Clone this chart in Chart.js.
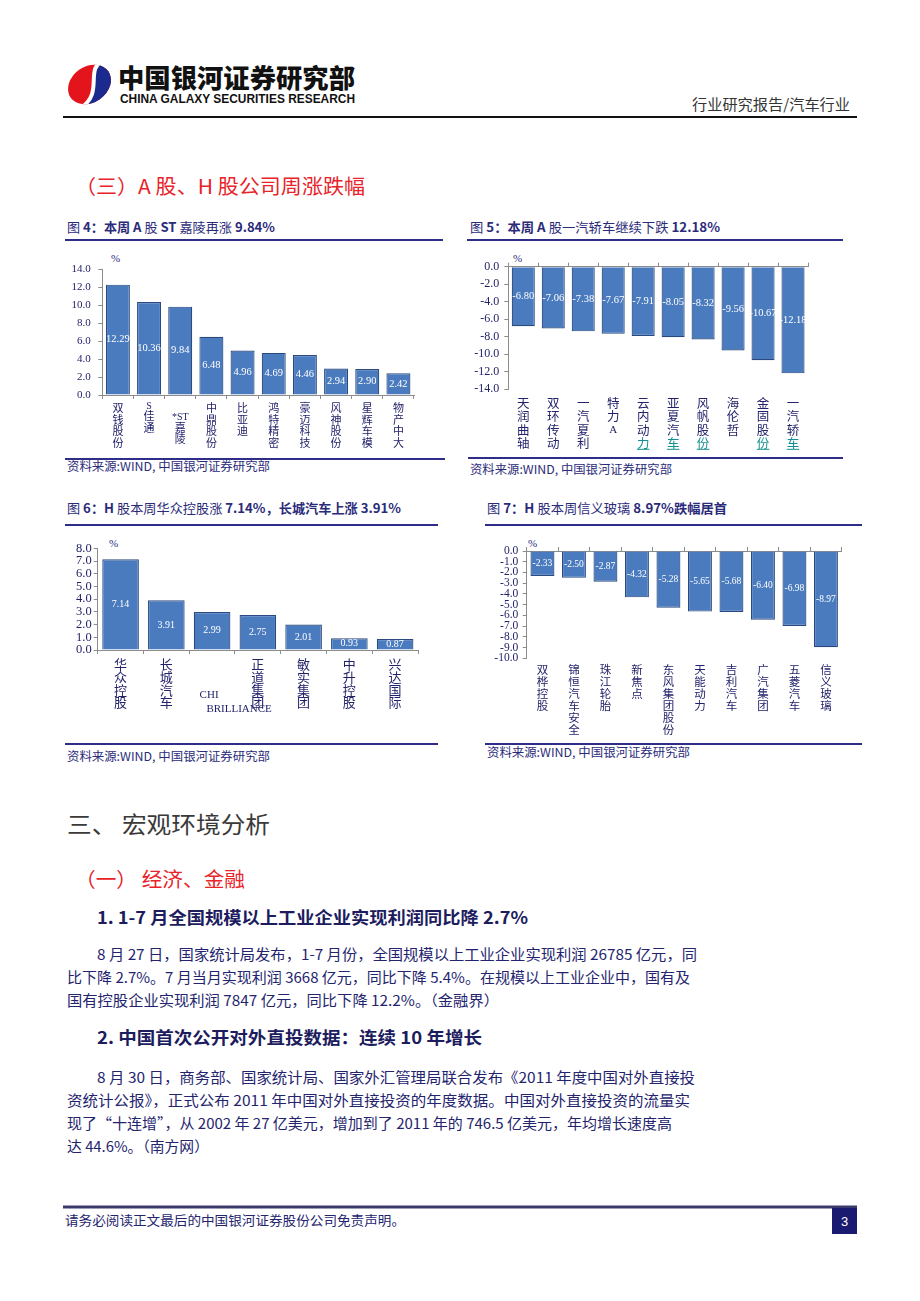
<!DOCTYPE html>
<html>
<head>
<meta charset="utf-8">
<script src="https://cdn.jsdelivr.net/npm/chart.js@4.4.1/dist/chart.umd.min.js"></script>
<style>
  html, body { margin: 0; padding: 0; background: #fff; }
  body { width: 920px; height: 1301px; position: relative; overflow: hidden; }
  svg.page { position: absolute; left: 0; top: 0; }
  canvas { position: absolute; }
  .cjk { font-family: 'Noto Sans CJK SC', sans-serif; }
</style>
</head>
<body>
<svg class="page" width="920" height="1301" xmlns="http://www.w3.org/2000/svg">
  <!-- header -->
  <defs>
    <clipPath id="logoClip"><ellipse cx="89.5" cy="84.5" rx="23" ry="18" transform="rotate(-35 89.5 84.5)"/></clipPath>
  </defs>
  <g clip-path="url(#logoClip)">
    <rect x="60" y="55" width="60" height="60" fill="#e3141c"/>
    <path d="M 104 60 C 84 66, 104 92, 82 108 L 125 108 L 125 60 Z" fill="#1b2a8e"/>
    <path d="M 104 61 C 84 67, 104 92, 82 107" stroke="#fff" stroke-width="4" fill="none"/>
  </g>
  <text x="118" y="88" class="cjk" font-size="26" font-weight="900" fill="#111" textLength="237" lengthAdjust="spacingAndGlyphs">中国银河证券研究部</text>
  <text x="120" y="103" font-family="Liberation Sans" font-size="12" font-weight="bold" fill="#111" textLength="235" lengthAdjust="spacingAndGlyphs">CHINA GALAXY SECURITIES RESEARCH</text>
  <text x="692" y="110" class="cjk" font-size="15" fill="#333" textLength="158" lengthAdjust="spacingAndGlyphs">行业研究报告/汽车行业</text>
  <line x1="63" y1="117" x2="857" y2="117" stroke="#111" stroke-width="2"/>

  <text x="75" y="194" class="cjk" font-size="20" fill="#e8232a" textLength="290" lengthAdjust="spacingAndGlyphs">（三）A 股、H 股公司周涨跌幅</text>

  <!-- chart titles -->
  <g class="cjk" font-size="13" fill="#2b2b7a">
    <text x="67" y="231.5" textLength="208" lengthAdjust="spacingAndGlyphs">图 <tspan font-weight="bold">4：本周 A</tspan> 股 <tspan font-weight="bold">ST</tspan> 嘉陵再涨 <tspan font-weight="bold">9.84%</tspan></text>
    <text x="470" y="231.5" textLength="250" lengthAdjust="spacingAndGlyphs">图 <tspan font-weight="bold">5：本周 A</tspan> 股一汽轿车继续下跌 <tspan font-weight="bold">12.18%</tspan></text>
    <text x="67" y="512.5" textLength="334" lengthAdjust="spacingAndGlyphs">图 <tspan font-weight="bold">6：H</tspan> 股本周华众控股涨 <tspan font-weight="bold">7.14%，长城汽车上涨 3.91%</tspan></text>
    <text x="487" y="512.5" textLength="240" lengthAdjust="spacingAndGlyphs">图 <tspan font-weight="bold">7：H</tspan> 股本周信义玻璃 <tspan font-weight="bold">8.97%跌幅居首</tspan></text>
  </g>
  <g stroke="#2e2e8a" stroke-width="2">
    <line x1="65" y1="240" x2="443" y2="240"/>
    <line x1="467" y1="240" x2="843" y2="240"/>
    <line x1="65" y1="525" x2="438" y2="525"/>
    <line x1="485" y1="525" x2="862" y2="525"/>
    <line x1="65" y1="459" x2="445" y2="459"/>
    <line x1="468" y1="458" x2="843" y2="458"/>
    <line x1="65" y1="744" x2="438" y2="744"/>
    <line x1="485" y1="744" x2="862" y2="744"/>
  </g>
  <g font-family="Liberation Serif" font-size="11" fill="#2b2b7a">
    <text x="111" y="262">%</text>
    <text x="513" y="262">%</text>
    <text x="109" y="547">%</text>
    <text x="528" y="547">%</text>
  </g>
  <g class="cjk" font-size="12" fill="#2b2b7a">
    <text x="67" y="471" textLength="203" lengthAdjust="spacingAndGlyphs">资料来源:WIND, 中国银河证券研究部</text>
    <text x="470" y="474" textLength="202" lengthAdjust="spacingAndGlyphs">资料来源:WIND, 中国银河证券研究部</text>
    <text x="67" y="761" textLength="203" lengthAdjust="spacingAndGlyphs">资料来源:WIND, 中国银河证券研究部</text>
    <text x="487" y="757" textLength="203" lengthAdjust="spacingAndGlyphs">资料来源:WIND, 中国银河证券研究部</text>
  </g>

  <!-- body text -->
  <text x="67" y="833" class="cjk" font-size="23" fill="#3a3a3a" textLength="203" lengthAdjust="spacingAndGlyphs">三、 宏观环境分析</text>
  <text x="75" y="887" class="cjk" font-size="20" fill="#e8232a" textLength="170" lengthAdjust="spacingAndGlyphs">（一） 经济、金融</text>
  <text x="97" y="924" class="cjk" font-size="17" font-weight="bold" fill="#1c1c5e" textLength="431" lengthAdjust="spacingAndGlyphs">1. 1-7 月全国规模以上工业企业实现利润同比降 2.7%</text>
  <g class="cjk" font-size="14.5" fill="#24246e">
    <text x="97" y="960" textLength="600" lengthAdjust="spacingAndGlyphs">8 月 27 日，国家统计局发布，1-7 月份，全国规模以上工业企业实现利润 26785 亿元，同</text>
    <text x="67" y="983" textLength="623" lengthAdjust="spacingAndGlyphs">比下降 2.7%。7 月当月实现利润 3668 亿元，同比下降 5.4%。在规模以上工业企业中，国有及</text>
    <text x="67" y="1006" textLength="432" lengthAdjust="spacingAndGlyphs">国有控股企业实现利润 7847 亿元，同比下降 12.2%。（金融界）</text>
  </g>
  <text x="97" y="1044" class="cjk" font-size="17" font-weight="bold" fill="#1c1c5e" textLength="385" lengthAdjust="spacingAndGlyphs">2. 中国首次公开对外直投数据：连续 10 年增长</text>
  <g class="cjk" font-size="14.5" fill="#24246e">
    <text x="97" y="1083" textLength="598" lengthAdjust="spacingAndGlyphs">8 月 30 日，商务部、国家统计局、国家外汇管理局联合发布《2011 年度中国对外直接投</text>
    <text x="67" y="1106" textLength="623" lengthAdjust="spacingAndGlyphs">资统计公报》，正式公布 2011 年中国对外直接投资的年度数据。中国对外直接投资的流量实</text>
    <text x="67" y="1129" textLength="605" lengthAdjust="spacingAndGlyphs">现了“十连增”，从 2002 年 27 亿美元，增加到了 2011 年的 746.5 亿美元，年均增长速度高</text>
    <text x="67" y="1152" textLength="142" lengthAdjust="spacingAndGlyphs">达 44.6%。（南方网）</text>
  </g>

  <!-- footer -->
  <line x1="63" y1="1207" x2="857" y2="1207" stroke="#3a3a6a" stroke-width="3"/>
  <text x="65" y="1225" class="cjk" font-size="13" fill="#24246e" textLength="340" lengthAdjust="spacingAndGlyphs">请务必阅读正文最后的中国银河证券股份公司免责声明。</text>
  <rect x="832" y="1208" width="25" height="26" fill="#1a1a70"/>
  <text x="844.5" y="1226" font-family="Liberation Sans" font-size="13" fill="#fff" text-anchor="middle">3</text>
</svg>

<canvas id="aRise" width="380" height="200" style="left:62px;top:250px"></canvas>
<canvas id="aFall" width="375" height="205" style="left:468px;top:250px"></canvas>
<canvas id="hRise" width="380" height="185" style="left:62px;top:535px"></canvas>
<canvas id="hFall" width="380" height="205" style="left:484px;top:535px"></canvas>

<script>
const NAVY = '#23236b';
const LINK = '#13908f';
const BAR_FILL = '#4a7bbf';
const BAR_EDGE = '#2a4a7f';
const AXIS = '#8c8c8c';

// 图4 A股涨幅
const aRiseNames = ['双钱股份', 'S佳通', ['', '*ST', '嘉', '陵'], '中鼎股份', '比亚迪', '鸿特精密', '豪迈科技', '风神股份', '星辉车模', '物产中大'];
const aRiseValues = [12.29, 10.36, 9.84, 6.48, 4.96, 4.69, 4.46, 2.94, 2.90, 2.42];

// 图5 A股跌幅
const aFallNames = ['天润曲轴', '双环传动', '一汽夏利', '特力A', '云内动力', '亚夏汽车', '风帆股份', '海伦哲', '金固股份', '一汽轿车'];
const aFallValues = [-6.80, -7.06, -7.38, -7.67, -7.91, -8.05, -8.32, -9.56, -10.67, -12.18];

// 图6 H股涨幅
const hRiseNames = ['华众控股', '长城汽车', ['', '', 'CHI', 'BRILLIANCE'], '正道集团', '敏实集团', '中升控股', '兴达国际'];
const hRiseValues = [7.14, 3.91, 2.99, 2.75, 2.01, 0.93, 0.87];

// 图7 H股跌幅
const hFallNames = ['双桦控股', '锦恒汽车安全', '珠江轮胎', '新焦点', '东风集团股份', '天能动力', '吉利汽车', '广汽集团', '五菱汽车', '信义玻璃'];
const hFallValues = [-2.33, -2.50, -2.87, -4.32, -5.28, -5.65, -5.68, -6.40, -6.98, -8.97];

// 竖排标签: 汉字逐字一行, 英文连续一行
function toLines(label) {
  if (Array.isArray(label)) return label;
  const out = [];
  let buf = '';
  for (const ch of label) {
    if (/[\x00-\x7f]/.test(ch)) { buf += ch; continue; }
    if (buf) { out.push(buf); buf = ''; }
    out.push(ch);
  }
  if (buf) out.push(buf);
  return out;
}

const stackedLabels = {
  id: 'stackedLabels',
  afterDraw(chart, args, o) {
    const ctx = chart.ctx;
    const xs = chart.scales.x;
    const top = chart.chartArea.bottom + o.offset;
    ctx.save();
    ctx.textAlign = 'center';
    ctx.textBaseline = 'middle';
    chart.data.labels.forEach((lab, i) => {
      const x = xs.getPixelForValue(i);
      let y = top;
      const lines = toLines(lab);
      lines.forEach((ln, j) => {
        const latin = /^[\x00-\x7f]*$/.test(ln);
        const h = (latin && ln) ? o.latinHeight : o.lineHeight;
        const shift = (o.shift && o.shift[ln]) || [0, 0];
        const link = o.links && o.links.includes(i) && j === lines.length - 1;
        ctx.font = latin ? o.latinFont : o.font;
        ctx.fillStyle = link ? LINK : NAVY;
        const cx = x + shift[0], cy = y + h / 2 + shift[1];
        if (ln) ctx.fillText(ln, cx, cy);
        if (link) {
          const w = ctx.measureText(ln).width;
          ctx.fillRect(cx - w / 2, cy + h / 2 - 1, w, 1);
        }
        y += h;
      });
    });
    ctx.restore();
  }
};

const barValues = {
  id: 'barValues',
  afterDatasetsDraw(chart, args, o) {
    const ctx = chart.ctx;
    const vals = chart.data.datasets[0].data;
    ctx.save();
    ctx.font = o.font;
    ctx.fillStyle = '#fff';
    ctx.textAlign = 'center';
    ctx.textBaseline = 'middle';
    chart.getDatasetMeta(0).data.forEach((bar, i) => {
      ctx.fillText(vals[i].toFixed(2), bar.x, (bar.y + bar.base) / 2);
    });
    ctx.restore();
  }
};

function makeChart(id, names, values, s) {
  return new Chart(document.getElementById(id), {
    type: 'bar',
    data: {
      labels: names,
      datasets: [{
        data: values,
        backgroundColor: BAR_FILL,
        borderColor: BAR_EDGE,
        borderWidth: 1.2,
        barPercentage: s.bar,
        categoryPercentage: 1
      }]
    },
    options: {
      responsive: false,
      animation: false,
      events: [],
      layout: { padding: s.pad },
      plugins: {
        legend: { display: false },
        tooltip: { enabled: false },
        stackedLabels: s.labels,
        barValues: { font: s.valueFont }
      },
      scales: {
        x: {
          position: s.xPos,
          grid: { drawOnChartArea: false, drawTicks: true, tickLength: 4, color: AXIS, offset: true },
          border: { color: AXIS },
          ticks: { display: false, autoSkip: false },
          afterFit: sc => { sc.height = s.xHeight; }
        },
        y: {
          min: s.min,
          max: s.max,
          grid: { drawOnChartArea: false, drawTicks: true, tickLength: 4, color: AXIS },
          border: { color: AXIS },
          ticks: {
            stepSize: s.step,
            autoSkip: false,
            color: NAVY,
            padding: s.tickPad,
            font: { family: 'Liberation Serif', size: s.tickSize },
            callback: v => v.toFixed(1)
          },
          afterFit: sc => { sc.width = s.yWidth; }
        }
      }
    },
    plugins: [stackedLabels, barValues]
  });
}

makeChart('aRise', aRiseNames, aRiseValues, {
  bar: 0.77, min: 0, max: 14, step: 2, xPos: 'bottom', xHeight: 55, yWidth: 40.3,
  pad: { top: 19.3, right: 28, left: 0, bottom: 0 }, tickSize: 11, tickPad: 7.5,
  valueFont: "10.5px 'Liberation Serif'",
  labels: { offset: 7, lineHeight: 11.7, latinHeight: 8, font: "11px 'Noto Sans CJK SC'", latinFont: "10px 'Liberation Serif'" }
});

makeChart('aFall', aFallNames, aFallValues, {
  bar: 0.77, min: -14, max: 0, step: 2, xPos: 'top', xHeight: 4, yWidth: 40.3,
  pad: { top: 12.7, right: 35, left: 0, bottom: 65.7 }, tickSize: 12, tickPad: 5,
  valueFont: "10.5px 'Liberation Serif'",
  labels: { offset: 7.3, lineHeight: 13.3, latinHeight: 13.3, font: "12.5px 'Noto Sans CJK SC'", latinFont: "11px 'Liberation Serif'", links: [4, 5, 6, 8, 9] }
});

makeChart('hRise', hRiseNames, hRiseValues, {
  bar: 0.8, min: 0, max: 8, step: 1, xPos: 'bottom', xHeight: 70, yWidth: 35.7,
  pad: { top: 13.3, right: 24, left: 0, bottom: 0 }, tickSize: 12.5, tickPad: 2,
  valueFont: "10px 'Liberation Serif'",
  labels: { offset: 7.6, lineHeight: 12.8, latinHeight: 12, font: "13px 'Noto Sans CJK SC'", latinFont: "11px 'Liberation Serif'",
            shift: { 'CHI': [-3, 6], 'BRILLIANCE': [27, 8] } }
});

makeChart('hFall', hFallNames, hFallValues, {
  bar: 0.76, min: -10, max: 0, step: 1, xPos: 'top', xHeight: 4, yWidth: 42.7,
  pad: { top: 12, right: 22.3, left: 0, bottom: 81.7 }, tickSize: 11.5, tickPad: 4.4,
  valueFont: "9.5px 'Liberation Serif'",
  labels: { offset: 5.7, lineHeight: 12, latinHeight: 12, font: "11.5px 'Noto Sans CJK SC'", latinFont: "11px 'Liberation Serif'" }
});
</script>
</body>
</html>
